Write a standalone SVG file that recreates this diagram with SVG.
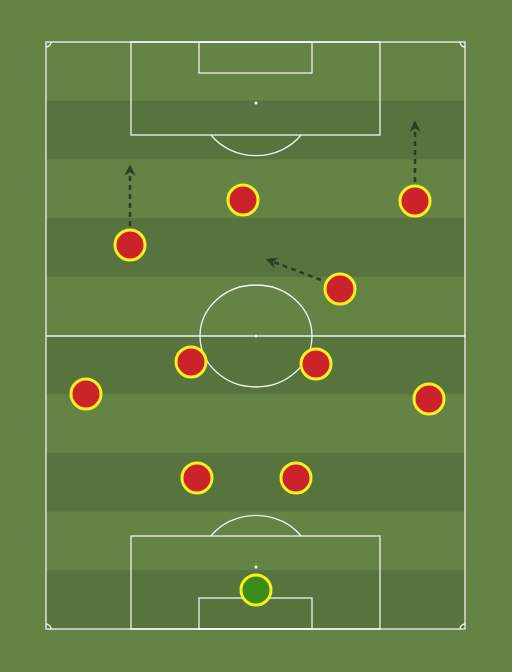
<svg xmlns="http://www.w3.org/2000/svg" width="512" height="672" viewBox="0 0 512 672">
<defs>
<style>
.line{fill:none;stroke:#ffffff;stroke-width:1.3;stroke-opacity:0.9}
.spot{fill:#ffffff}
.player circle{stroke:#f5f01e;stroke-width:3}
.red{fill:#cc2229}
.gk{fill:#3b8c16}
.arrow{fill:none;stroke:#2c3d20;stroke-width:2.5;stroke-dasharray:5 4;marker-end:url(#ah)}
</style>
<marker id="ah" viewBox="0 0 10 10" refX="5" refY="5" markerWidth="4.5" markerHeight="4.5" orient="auto" markerUnits="strokeWidth">
<path d="M0,0 L10,5 L0,10 L3,5 Z" fill="#2c3d20"/>
</marker>
</defs>
<rect width="512" height="672" fill="#648446"/>
<g id="stripes" fill="#58743e">
<rect x="46" y="100.7" width="419" height="58.7"/>
<rect x="46" y="218.1" width="419" height="58.7"/>
<rect x="46" y="335.5" width="419" height="58.7"/>
<rect x="46" y="452.9" width="419" height="58.7"/>
<rect x="46" y="570.3" width="419" height="58.7"/>
</g>
<g id="pitch">
<rect class="line" x="46" y="42" width="419" height="587"/>
<line class="line" x1="46" y1="336" x2="465" y2="336"/>
<ellipse class="line" cx="256" cy="336" rx="56" ry="51"/>
<circle class="spot" cx="256" cy="336" r="1.5"/>
<rect class="line" x="131" y="42" width="249" height="93"/>
<rect class="line" x="199" y="42" width="113" height="31"/>
<circle class="spot" cx="256" cy="103" r="1.5"/>
<path class="line" d="M211,135 A56,51 0 0 0 301,135"/>
<rect class="line" x="131" y="536" width="249" height="93"/>
<rect class="line" x="199" y="598" width="113" height="31"/>
<circle class="spot" cx="256" cy="567" r="1.5"/>
<path class="line" d="M211,536 A56,51 0 0 1 301,536"/>
<path class="line" d="M46,47 A5,5 0 0 0 51,42"/>
<path class="line" d="M460,42 A5,5 0 0 0 465,47"/>
<path class="line" d="M46,624 A5,5 0 0 1 51,629"/>
<path class="line" d="M460,629 A5,5 0 0 1 465,624"/>
</g>
<g id="connectors">
<line class="arrow" x1="130" y1="226" x2="130" y2="170"/>
<line class="arrow" x1="415" y1="182" x2="415" y2="126"/>
<line class="arrow" x1="321" y1="280" x2="271" y2="261"/>
</g>
<g id="p1" class="player"><circle class="red" cx="243" cy="200" r="15"/></g>
<g id="p2" class="player"><circle class="red" cx="415" cy="201" r="15"/></g>
<g id="p3" class="player"><circle class="red" cx="130" cy="245" r="15"/></g>
<g id="p4" class="player"><circle class="red" cx="340" cy="289" r="15"/></g>
<g id="p5" class="player"><circle class="red" cx="191" cy="362" r="15"/></g>
<g id="p6" class="player"><circle class="red" cx="316" cy="364" r="15"/></g>
<g id="p7" class="player"><circle class="red" cx="86" cy="394" r="15"/></g>
<g id="p8" class="player"><circle class="red" cx="429" cy="399" r="15"/></g>
<g id="p9" class="player"><circle class="red" cx="197" cy="478" r="15"/></g>
<g id="p10" class="player"><circle class="red" cx="296" cy="478" r="15"/></g>
<g id="gk" class="player"><circle class="gk" cx="256" cy="590" r="15"/></g>
</svg>
